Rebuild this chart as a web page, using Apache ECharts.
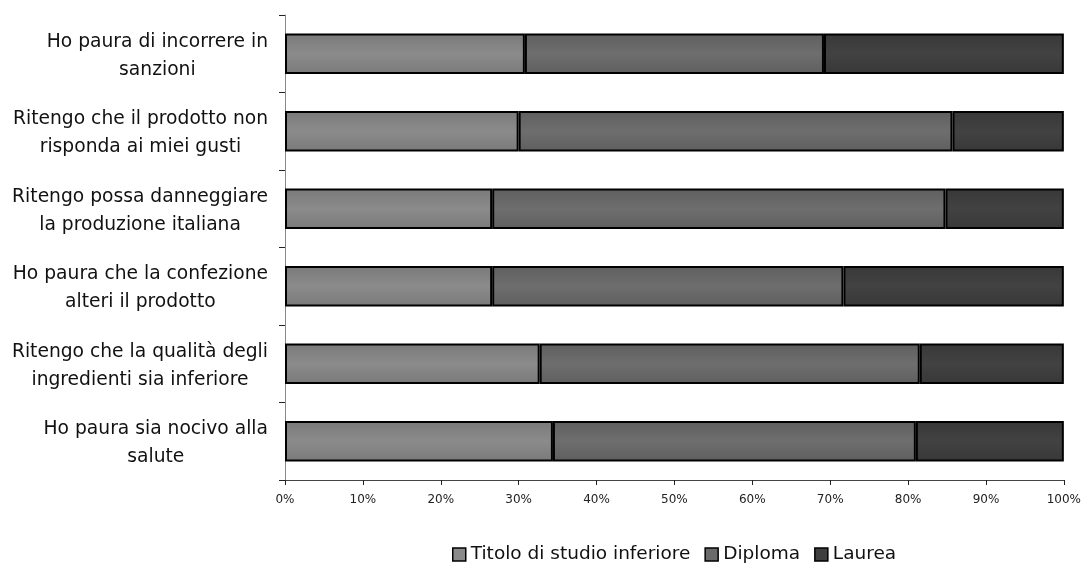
<!DOCTYPE html>
<html>
<head>
<meta charset="utf-8">
<script src="https://cdn.jsdelivr.net/npm/echarts@6/dist/echarts.min.js"></script>
<style>html,body{margin:0;padding:0;background:#fff}#c{width:1084px;height:568px}</style>
</head>
<body>
<div id="c"></div>
<script>
const categories = [
  "Ho paura di incorrere in\nsanzioni",
  "Ritengo che il prodotto non\nrisponda ai miei gusti",
  "Ritengo possa danneggiare\nla produzione italiana",
  "Ho paura che la confezione\nalteri il prodotto",
  "Ritengo che la qualità degli\ningredienti sia inferiore",
  "Ho paura sia nocivo alla\nsalute"
];
const seriesNames = ["Titolo di studio inferiore", "Diploma", "Laurea"];
const inferiore = [30.8, 30.0, 26.6, 26.6, 32.7, 34.4];
const diploma   = [38.4, 55.7, 58.2, 45.1, 48.8, 46.6];
const laurea    = [30.8, 14.3, 15.2, 28.3, 18.5, 19.0];
const xTicks = [0, 10, 20, 30, 40, 50, 60, 70, 80, 90, 100];

const FONT = "DejaVu Sans";
function grad(top, mid, bot) {
  return new echarts.graphic.LinearGradient(0, 0, 0, 1, [
    {offset: 0, color: top}, {offset: 0.5, color: mid}, {offset: 1, color: bot}
  ]);
}
const fills = [
  grad('#7a7a7a', '#8b8b8b', '#7a7a7a'),
  grad('#5f5f5f', '#6e6e6e', '#5f5f5f'),
  grad('#383838', '#424242', '#383838')
];
const legendFills = ['#8a8a8a', '#6a6a6a', '#3f3f3f'];
const data = [inferiore, diploma, laurea];

const chart = echarts.init(document.getElementById('c'), null, {renderer: 'canvas'});
chart.setOption({
  animation: false,
  backgroundColor: '#ffffff',
  grid: {left: 285, right: 19, top: 15, bottom: 88, containLabel: false},
  legend: {
    top: 545,
    left: 452,
    padding: 0,
    itemWidth: 13,
    itemHeight: 13,
    itemGap: 14,
    icon: 'rect',
    textStyle: {fontFamily: FONT, fontSize: 18.5, color: '#111'},
    data: seriesNames.map((n, i) => ({name: n, itemStyle: {color: legendFills[i], borderColor: '#000', borderWidth: 1.5}}))
  },
  xAxis: {
    type: 'value',
    min: 0, max: 100, interval: 10,
    axisLine: {show: true, lineStyle: {color: '#444', width: 1}},
    axisTick: {show: true, length: 5, lineStyle: {color: '#222'}},
    splitLine: {show: false},
    axisLabel: {
      fontFamily: FONT, fontSize: 12, color: '#222', margin: 14,
      formatter: v => xTicks.includes(v) ? v + '%' : ''
    }
  },
  yAxis: {
    type: 'category',
    inverse: true,
    data: categories,
    axisLine: {show: true, lineStyle: {color: '#888', width: 1}},
    axisTick: {show: true, length: 6, lineStyle: {color: '#222'}},
    axisLabel: {
      margin: 17,
      align: 'right',
      padding: [4, 0, 0, 0],
      formatter: v => v.split('\n').map(s => '{c|' + s + '}').join('\n'),
      rich: {c: {align: 'center', fontFamily: FONT, fontSize: 18.7, color: '#111', lineHeight: 28}}
    }
  },
  series: seriesNames.map((n, i) => ({
    name: n,
    type: 'bar',
    stack: 'total',
    barCategoryGap: '48%',
    data: data[i],
    itemStyle: {color: fills[i], borderColor: '#000', borderWidth: 2}
  }))
});
</script>
</body>
</html>
